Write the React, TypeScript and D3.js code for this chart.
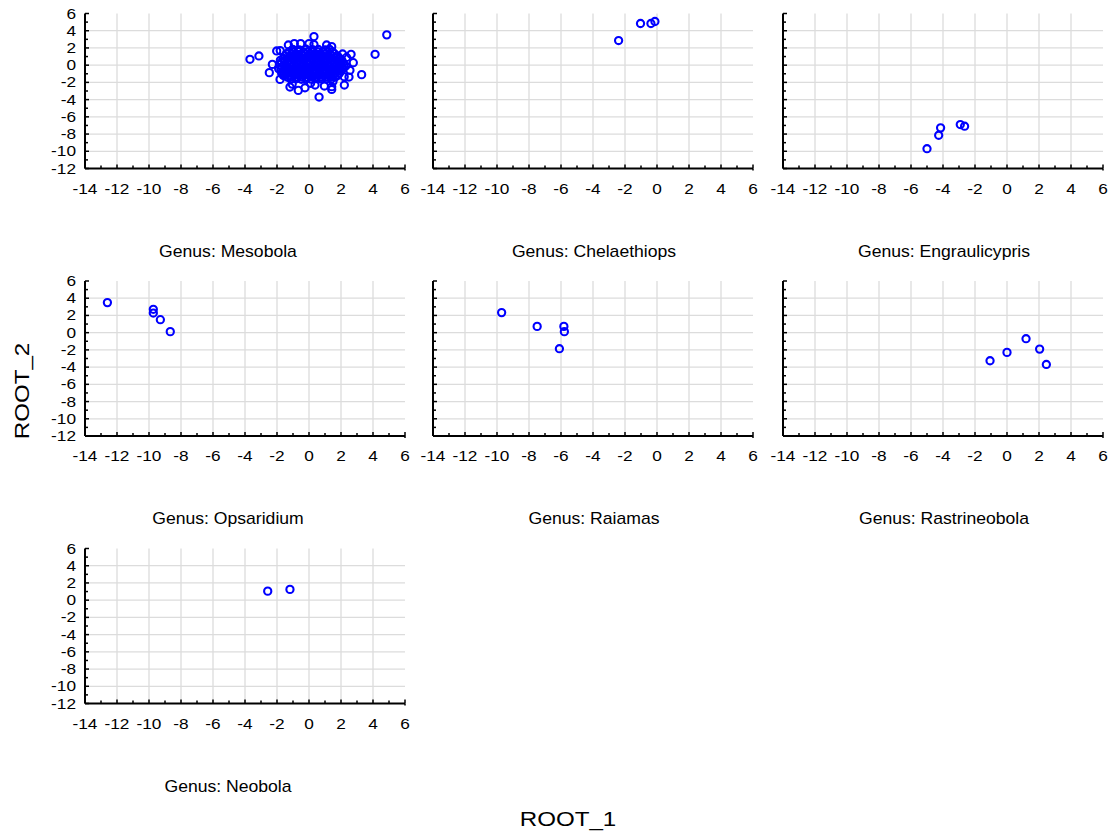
import * as d3 from "d3";

// categorized scatterplot: ROOT_1 vs ROOT_2 by Genus

const genera = [
  "Mesobola",
  "Chelaethiops",
  "Engraulicypris",
  "Opsaridium",
  "Raiamas",
  "Rastrineobola",
  "Neobola",
];

const xTicks = [-14, -12, -10, -8, -6, -4, -2, 0, 2, 4, 6];
const yTicks = [-12, -10, -8, -6, -4, -2, 0, 2, 4, 6];
const minorX = d3.range(-14, 7, 1);
const minorY = d3.range(-12, 7, 1);

// Mesobola: dense cloud + scattered outliers
const mesobola: [number, number][] = [
  // outliers
  [-3.69, 0.68], [-3.13, 1.07], [4.86, 3.52], [4.13, 1.26], [0.31, 3.32],
  [0.63, -3.7], [3.29, -1.1], [2.63, 1.26], [2.77, 0.29], [-2.48, -0.87],
  [-2.29, 0.09], [2.21, -2.31], [-2.02, 1.65], [-1.8, 1.7], [-1.19, -2.54],
  [-0.67, -2.93], [-0.25, -2.62], [0.96, -2.42], [1.42, -2.82], [1.42, -2.5],
  [0.38, -2.31], [2.5, -1.38], [2.2, -1.35], [-1.29, 2.35], [-0.92, 2.5],
  [-0.52, 2.5], [0.0, 2.5], [0.31, 2.4], [1.1, 2.35], [1.42, 2.15],
  [-1.81, -1.65], [1.5, -1.9], [2.56, -0.6], [-1.05, -2.2], [0.1, -2.1],
  [-1.6, -1.2], [2.35, 0.9], [2.1, 1.3], [-1.9, -0.4], [2.3, -0.1],
  // core
  [-1.02, 1.83], [-0.61, 1.78], [-0.19, 1.85], [0.22, 1.79], [0.58, 1.82], [1.01, 1.77], [1.28, 1.84],
  [-1.24, 1.56], [-0.96, 1.52], [-0.66, 1.57], [-0.34, 1.53], [-0.06, 1.56], [0.26, 1.51], [0.54, 1.57],
  [0.86, 1.54], [1.14, 1.52], [1.46, 1.56],
  [-1.41, 1.31], [-1.09, 1.27], [-0.82, 1.34], [-0.48, 1.29], [-0.21, 1.32], [0.12, 1.26], [0.41, 1.33],
  [0.69, 1.28], [1.02, 1.31], [1.33, 1.27], [1.58, 1.34],
  [-1.51, 1.06], [-1.19, 1.03], [-0.91, 1.07], [-0.59, 1.04], [-0.31, 1.06], [0.01, 1.02], [0.29, 1.07],
  [0.61, 1.05], [0.89, 1.03], [1.21, 1.06], [1.49, 1.04], [1.79, 1.07],
  [-1.62, 0.79], [-1.28, 0.83], [-1.01, 0.77], [-0.69, 0.82], [-0.42, 0.78], [-0.09, 0.84], [0.21, 0.79],
  [0.52, 0.81], [0.78, 0.76], [1.12, 0.83], [1.39, 0.79], [1.71, 0.82], [1.94, 0.77],
  [-1.79, 0.56], [-1.49, 0.53], [-1.21, 0.57], [-0.89, 0.54], [-0.61, 0.56], [-0.29, 0.52], [0.01, 0.57],
  [0.31, 0.55], [0.59, 0.53], [0.91, 0.56], [1.19, 0.54], [1.51, 0.57], [1.79, 0.53], [2.06, 0.55],
  [-1.72, 0.31], [-1.38, 0.27], [-1.11, 0.33], [-0.79, 0.28], [-0.52, 0.32], [-0.18, 0.26], [0.09, 0.31],
  [0.42, 0.29], [0.71, 0.34], [0.98, 0.27], [1.31, 0.32], [1.62, 0.28], [1.88, 0.31], [2.12, 0.27],
  [-1.84, 0.06], [-1.56, 0.03], [-1.24, 0.07], [-0.96, 0.04], [-0.64, 0.06], [-0.36, 0.02], [-0.04, 0.07],
  [0.24, 0.05], [0.56, 0.03], [0.84, 0.06], [1.16, 0.04], [1.44, 0.07], [1.76, 0.03], [2.01, 0.05], [2.19, 0.06],
  [-1.69, -0.21], [-1.42, -0.18], [-1.08, -0.23], [-0.81, -0.17], [-0.49, -0.22], [-0.21, -0.19], [0.12, -0.24],
  [0.39, -0.18], [0.68, -0.21], [1.01, -0.17], [1.29, -0.23], [1.61, -0.2], [1.92, -0.18], [2.08, -0.24],
  [-1.76, -0.44], [-1.44, -0.47], [-1.16, -0.43], [-0.84, -0.46], [-0.56, -0.44], [-0.24, -0.48], [0.06, -0.43],
  [0.34, -0.45], [0.66, -0.47], [0.94, -0.44], [1.26, -0.46], [1.54, -0.43], [1.86, -0.47], [2.11, -0.45],
  [-1.61, -0.71], [-1.32, -0.68], [-0.98, -0.73], [-0.71, -0.67], [-0.38, -0.72], [-0.11, -0.69], [0.22, -0.71],
  [0.49, -0.66], [0.81, -0.73], [1.09, -0.69], [1.42, -0.72], [1.69, -0.68], [1.98, -0.71],
  [-1.71, -0.94], [-1.39, -0.97], [-1.11, -0.93], [-0.79, -0.96], [-0.51, -0.94], [-0.19, -0.98], [0.09, -0.93],
  [0.41, -0.95], [0.69, -0.97], [1.01, -0.94], [1.29, -0.96], [1.61, -0.93], [1.89, -0.97],
  [-1.48, -1.19], [-1.21, -1.23], [-0.88, -1.18], [-0.59, -1.22], [-0.29, -1.17], [0.02, -1.21], [0.31, -1.24],
  [0.62, -1.18], [0.91, -1.22], [1.22, -1.19], [1.51, -1.23], [1.79, -1.2],
  [-1.34, -1.41], [-1.06, -1.38], [-0.74, -1.42], [-0.46, -1.39], [-0.14, -1.43], [0.16, -1.4], [0.46, -1.38],
  [0.76, -1.42], [1.06, -1.39], [1.36, -1.41], [1.64, -1.38],
  [-1.12, -1.62], [-0.79, -1.58], [-0.48, -1.64], [-0.18, -1.6], [0.14, -1.63], [0.45, -1.57], [0.78, -1.62],
  [1.08, -1.59], [1.39, -1.61],
];

const chelaethiops: [number, number][] = [
  [-2.4, 2.86], [-1.03, 4.84], [-0.38, 4.84], [-0.13, 5.07],
];

const engraulicypris: [number, number][] = [
  [-5.0, -9.7], [-4.27, -8.14], [-4.15, -7.28], [-2.92, -6.9], [-2.65, -7.09],
];

const opsaridium: [number, number][] = [
  [-12.6, 3.49], [-9.73, 2.71], [-9.73, 2.28], [-9.29, 1.51], [-8.67, 0.12],
];

const raiamas: [number, number][] = [
  [-9.71, 2.33], [-7.49, 0.73], [-5.82, 0.73], [-5.79, 0.12], [-6.1, -1.86],
];

const rastrineobola: [number, number][] = [
  [-1.06, -3.26], [0.0, -2.29], [1.19, -0.7], [2.04, -1.91], [2.46, -3.69],
];

const neobola: [number, number][] = [
  [-2.58, 1.05], [-1.19, 1.25],
];

const pointsByGenus = [
  mesobola, chelaethiops, engraulicypris, opsaridium, raiamas, rastrineobola, neobola,
];

const W = 1112;
const H = 834;
const colLeft = [85, 433, 783];
const rowTop = [13.5, 281, 548.5];
const plotW = 320;
const plotH = 155;
const FONT = "'Liberation Sans', Arial, sans-serif";

function T({
  x, y, size, anchor = "middle", sx = 1.2, rotate = 0, children,
}: {
  x: number; y: number; size: number; anchor?: string; sx?: number; rotate?: number; children: any;
}) {
  return (
    <text
      transform={`translate(${x},${y}) rotate(${rotate}) scale(${sx},1)`}
      fontSize={size}
      fontFamily={FONT}
      textAnchor={anchor}
      fill="#000"
    >
      {children}
    </text>
  );
}

function Panel({ idx }: { idx: number }) {
  const col = idx % 3;
  const row = Math.floor(idx / 3);
  const left = colLeft[col];
  const top = rowTop[row];
  const x = d3.scaleLinear().domain([-14, 6]).range([left, left + plotW]);
  const y = d3.scaleLinear().domain([-12, 6]).range([top + plotH, top]);
  const pts = pointsByGenus[idx];
  const titleX = col === 0 ? left + plotW / 2 - 17 : left + plotW / 2 + 1;
  return (
    <g>
      {/* grid */}
      {xTicks.filter((t) => t > -14 && t < 6).map((t) => (
        <line key={"gx" + t} x1={x(t)} x2={x(t)} y1={y(6)} y2={y(-12)} stroke="#dcdcdc" strokeWidth={1.3} />
      ))}
      {yTicks.filter((t) => t > -12 && t < 6).map((t) => (
        <line key={"gy" + t} x1={x(-14)} x2={x(6)} y1={y(t)} y2={y(t)} stroke="#dcdcdc" strokeWidth={1.3} />
      ))}
      {/* points */}
      {pts.map((p, i) => (
        <circle key={i} cx={x(p[0])} cy={y(p[1])} r={3.6} fill="none" stroke="#0000ff" strokeWidth={2.1} />
      ))}
      {/* axes */}
      <line x1={x(-14)} x2={x(6)} y1={y(-12)} y2={y(-12)} stroke="#000" strokeWidth={2} />
      <line x1={x(-14)} x2={x(-14)} y1={y(-12)} y2={y(6)} stroke="#000" strokeWidth={2} />
      {minorX.map((t) => (
        <line key={"tx" + t} x1={x(t)} x2={x(t)} y1={y(-12)} y2={y(-12) - (t % 2 === 0 ? 4 : 3)} stroke="#000" strokeWidth={1.5} />
      ))}
      <line x1={x(6)} x2={x(6)} y1={y(-12)} y2={y(-12) + 2} stroke="#000" strokeWidth={1.5} />
      {minorY.map((t) => (
        <line key={"ty" + t} x1={x(-14)} x2={x(-14) + (t % 2 === 0 ? 4 : 3)} y1={y(t)} y2={y(t)} stroke="#000" strokeWidth={1.5} />
      ))}
      {/* tick labels */}
      {xTicks.map((t) => (
        <T key={"lx" + t} x={x(t)} y={y(-12) + 25} size={15} sx={1.15}>{t}</T>
      ))}
      {col === 0 &&
        yTicks.map((t) => (
          <T key={"ly" + t} x={left - 9} y={y(t) + 5} size={15} sx={1.15} anchor="end">{t}</T>
        ))}
      <T x={titleX} y={top + plotH + 88} size={16} sx={1.1}>{"Genus: " + genera[idx]}</T>
    </g>
  );
}

export default function App() {
  return (
    <svg width={W} height={H} style={{ position: "absolute", left: 0, top: 0, background: "#fff" }}>
      <rect width={W} height={H} fill="#fff" />
      {genera.map((g, i) => (
        <Panel key={g} idx={i} />
      ))}
      <T x={568} y={826} size={21} sx={1.15}>ROOT_1</T>
      <T x={29} y={391} size={21} sx={1.15} rotate={-90}>ROOT_2</T>
    </svg>
  );
}
